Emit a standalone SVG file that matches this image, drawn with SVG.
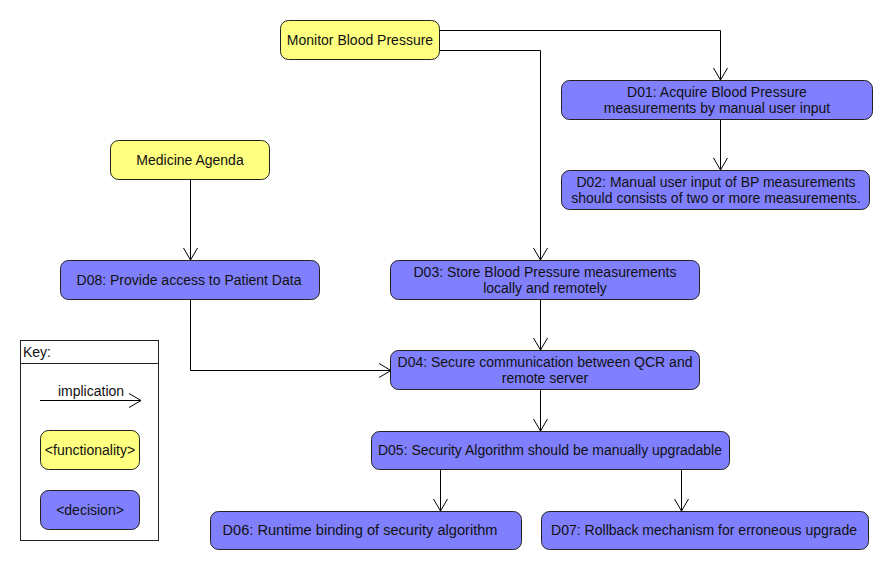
<svg xmlns="http://www.w3.org/2000/svg" width="890" height="570" viewBox="0 0 890 570">
<defs>
<marker id="arr" markerUnits="userSpaceOnUse" markerWidth="14" markerHeight="16" refX="13" refY="8" orient="auto">
<path d="M1,1 L13,8 L1,15" fill="none" stroke="#000" stroke-width="1"/>
</marker>
<style>
.f{fill:#ffff80;stroke:#222;stroke-width:1}
.d{fill:#8080ff;stroke:#222;stroke-width:1}
text{font-family:"Liberation Sans",Arial,sans-serif;font-size:14px;fill:#111;text-anchor:middle}
.c{fill:none;stroke:#000;stroke-width:1}
</style>
</defs>
<rect width="890" height="570" fill="#fff"/>
<g id="connectors">
<path class="c" d="M439.5,30.5 H720.5 V80" marker-end="url(#arr)"/>
<path class="c" d="M439.5,50.5 H540.5 V260" marker-end="url(#arr)"/>
<path class="c" d="M720.5,119 V170" marker-end="url(#arr)"/>
<path class="c" d="M190.5,179 V260" marker-end="url(#arr)"/>
<path class="c" d="M190.5,299 V370.5 H391" marker-end="url(#arr)"/>
<path class="c" d="M540.5,299 V350" marker-end="url(#arr)"/>
<path class="c" d="M540.5,389 V431" marker-end="url(#arr)"/>
<path class="c" d="M440.5,469 V511" marker-end="url(#arr)"/>
<path class="c" d="M681.5,469 V511" marker-end="url(#arr)"/>
</g>
<g id="monitor"><rect class="f" x="280.5" y="20.5" width="159" height="39" rx="8"/><text x="360" y="45">Monitor Blood Pressure</text></g>
<g id="medicine"><rect class="f" x="110.5" y="140.5" width="159" height="39" rx="8"/><text x="190" y="165">Medicine Agenda</text></g>
<g id="d01"><rect class="d" x="561.5" y="80.5" width="311" height="39" rx="8"/><text x="717" y="97">D01: Acquire Blood Pressure</text><text x="717" y="113">measurements by manual user input</text></g>
<g id="d02"><rect class="d" x="561.5" y="170.5" width="308" height="39" rx="8"/><text x="716" y="187">D02: Manual user input of BP measurements</text><text x="716" y="203">should consists of two or more measurements.</text></g>
<g id="d08"><rect class="d" x="60.5" y="260.5" width="259" height="39" rx="8"/><text x="189" y="285">D08: Provide access to Patient Data</text></g>
<g id="d03"><rect class="d" x="390.5" y="260.5" width="309" height="39" rx="8"/><text x="545" y="277">D03: Store Blood Pressure measurements</text><text x="545" y="293">locally and remotely</text></g>
<g id="d04"><rect class="d" x="390.5" y="350.5" width="309" height="39" rx="8"/><text x="545" y="367">D04: Secure communication between QCR and</text><text x="545" y="383">remote server</text></g>
<g id="d05"><rect class="d" x="371.5" y="431.5" width="358" height="38" rx="8"/><text x="550" y="455" textLength="344" lengthAdjust="spacingAndGlyphs">D05: Security Algorithm should be manually upgradable</text></g>
<g id="d06"><rect class="d" x="210.5" y="511.5" width="311" height="38" rx="8"/><text x="360" y="535" textLength="275" lengthAdjust="spacingAndGlyphs">D06: Runtime binding of security algorithm</text></g>
<g id="d07"><rect class="d" x="541.5" y="511.5" width="327" height="38" rx="8"/><text x="704" y="535" textLength="306" lengthAdjust="spacingAndGlyphs">D07: Rollback mechanism for erroneous upgrade</text></g>
<g id="key">
<rect x="20.5" y="340.5" width="138" height="200" fill="none" stroke="#222"/>
<line x1="20.5" y1="363.5" x2="158.5" y2="363.5" stroke="#222"/>
<text x="23" y="357" style="text-anchor:start">Key:</text>
<text x="91" y="396">implication</text>
<path class="c" d="M40,400.5 H141" marker-end="url(#arr)"/>
<rect class="f" x="40.5" y="430.5" width="99" height="39" rx="8"/><text x="90" y="455">&lt;functionality&gt;</text>
<rect class="d" x="40.5" y="490.5" width="99" height="39" rx="8"/><text x="90" y="515">&lt;decision&gt;</text>
</g>
</svg>
